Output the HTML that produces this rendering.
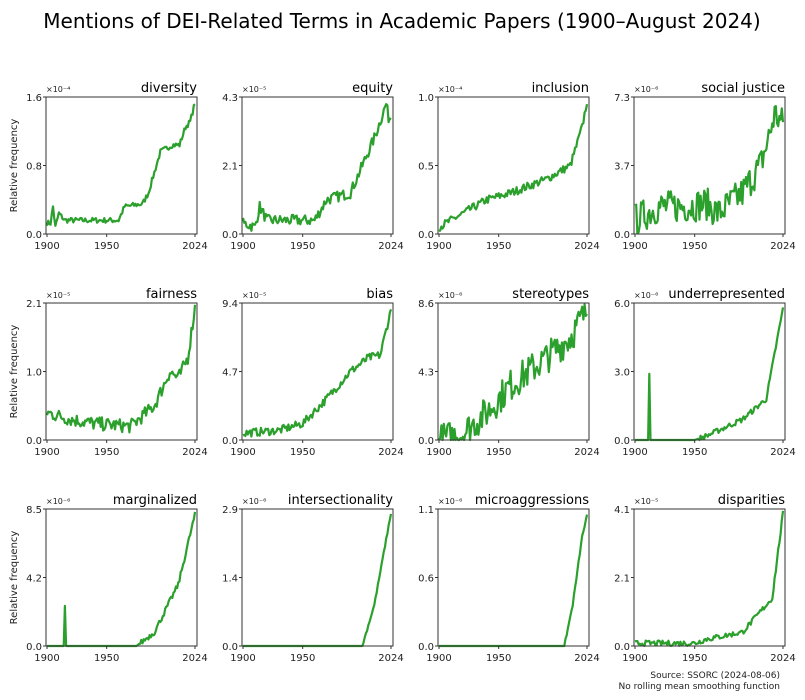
<!DOCTYPE html><html><head><meta charset="utf-8"><style>body{margin:0;background:#fff}svg{display:block;font-family:"DejaVu Sans","Liberation Sans",sans-serif}</style></head><body>
<svg id="s" width="805" height="700" xmlns="http://www.w3.org/2000/svg">
<text x="402" y="28" font-size="20" text-anchor="middle" fill="#000">Mentions of DEI-Related Terms in Academic Papers (1900–August 2024)</text>
<text x="780" y="678" font-size="9" text-anchor="end" fill="#222">Source: SSORC (2024-08-06)</text>
<text x="780" y="689" font-size="9" text-anchor="end" fill="#222">No rolling mean smoothing function</text>
</svg>
<script>
var S=document.getElementById('s'),NS='http://www.w3.org/2000/svg';
function el(t,a,txt){var e=document.createElementNS(NS,t);for(var k in a)e.setAttribute(k,a[k]);if(txt!==undefined)e.textContent=txt;S.appendChild(e);return e;}
var seed=7;function rnd(){seed=(seed*16807)%2147483647;return seed/2147483647;}
var P=[
["diversity","1.6","0.8","−4",[[1900,.08],[1903,.08],[1905,.2],[1907,.05],[1910,.15],[1915,.1],[1960,.1],[1965,.2],[1980,.22],[1985,.3],[1995,.6],[2005,.65],[2011,.65],[2016,.78],[2020,.82],[2024,.96]],.02,0],
["equity","4.3","2.1","−5",[[1900,.08],[1910,.05],[1914,.2],[1920,.1],[1960,.1],[1970,.25],[1990,.3],[2000,.5],[2010,.7],[2020,.95],[2022,.85],[2024,.85]],.04,0],
["inclusion","1.0","0.5","−4",[[1900,.05],[1920,.15],[1940,.25],[1960,.3],[1990,.4],[2010,.5],[2020,.78],[2024,.97]],.03,0],
["social justice","7.3","3.7","−6",[[1900,.1],[1920,.2],[1940,.2],[1960,.22],[1970,.15],[1990,.3],[2005,.5],[2012,.7],[2017,.88],[2024,.8]],.12,0],
["fairness","2.1","1.0","−5",[[1900,.2],[1920,.15],[1940,.12],[1970,.1],[1990,.25],[2003,.5],[2010,.45],[2018,.6],[2024,.97]],.05,0],
["bias","9.4","4.7","−5",[[1900,.05],[1930,.07],[1950,.12],[1970,.3],[1990,.5],[2005,.6],[2015,.62],[2024,.95]],.03,0],
["stereotypes","8.6","4.3","−6",[[1900,0],[1920,.05],[1940,.2],[1960,.4],[1990,.6],[2010,.75],[2024,.95]],.12,0],
["underrepresented","6.0","3.0","−6",[[1900,0],[1911,0],[1912,.47],[1913,0],[1950,0],[1960,.03],[1990,.15],[2010,.3],[2024,.96]],.02,1],
["marginalized","8.5","4.2","−6",[[1900,0],[1914,0],[1915,.28],[1916,0],[1975,0],[1990,.1],[2010,.45],[2024,.96]],.02,1],
["intersectionality","2.9","1.4","−6",[[1900,0],[2000,0],[2010,.3],[2024,.97]],.01,1],
["microaggressions","1.1","0.6","−6",[[1900,0],[2005,0],[2012,.3],[2020,.8],[2024,.95]],.01,1],
["disparities","4.1","2.1","−5",[[1900,.02],[1950,.02],[1960,.05],[1990,.1],[2000,.2],[2015,.35],[2024,.97]],.02,0]];
function interp(k,y){for(var i=1;i<k.length;i++)if(y<=k[i][0]){var a=k[i-1],b=k[i];return a[1]+(b[1]-a[1])*(y-a[0])/(b[0]-a[0]||1);}return k[k.length-1][1];}
P.forEach(function(p,i){
 var c=i%4,r=Math.floor(i/4),L=46+c*196,T=97+r*206,W=151,H=137,B=T+H;
 var X=function(y){return L+1+(y-1900)/124*(W-3);},Y=function(v){return B-v*H;};
 var pts=[];for(var y=1900;y<=2024;y+=1){var v=interp(p[4],y);var n=(rnd()-.5)*2*p[5]*(p[6]?(v>0.01?1:0):1);v=Math.max(0,Math.min(0.99,v+n));pts.push(X(y).toFixed(1)+','+Y(v).toFixed(1));}
 el('polyline',{points:pts.join(' '),fill:'none',stroke:'#2ca02c','stroke-width':2.2,'stroke-linejoin':'round'});
 el('rect',{x:L,y:T,width:W,height:H,fill:'none',stroke:'#333','stroke-width':1});
 el('text',{x:L+W,y:T-5,'font-size':13,'text-anchor':'end'},p[0]);
 el('text',{x:L,y:T-5,'font-size':8,fill:'#222'},'×10'+p[3].replace('−','⁻').replace(/\d/g,function(d){return '⁰¹²³⁴⁵⁶⁷⁸⁹'[d]}));
 [[0,'0.0'],[0.5,p[2]],[1,p[1]]].forEach(function(t){var yy=Y(t[0]);el('line',{x1:L-3,x2:L,y1:yy,y2:yy,stroke:'#333'});el('text',{x:L-4,y:yy+4,'font-size':10,'text-anchor':'end',fill:'#222'},t[1]);});
 [[1900,'1900'],[1950,'1950'],[2024,'2024']].forEach(function(t){var xx=X(t[0]);el('line',{x1:xx,x2:xx,y1:B,y2:B+3,stroke:'#333'});el('text',{x:xx,y:B+15,'font-size':10,'text-anchor':'middle',fill:'#222'},t[1]);});
 if(c==0){var cy=T+H/2;el('text',{x:17,y:cy,'font-size':10,'text-anchor':'middle',transform:'rotate(-90 17 '+cy+')',fill:'#222'},'Relative frequency');}
});
</script></body></html>
